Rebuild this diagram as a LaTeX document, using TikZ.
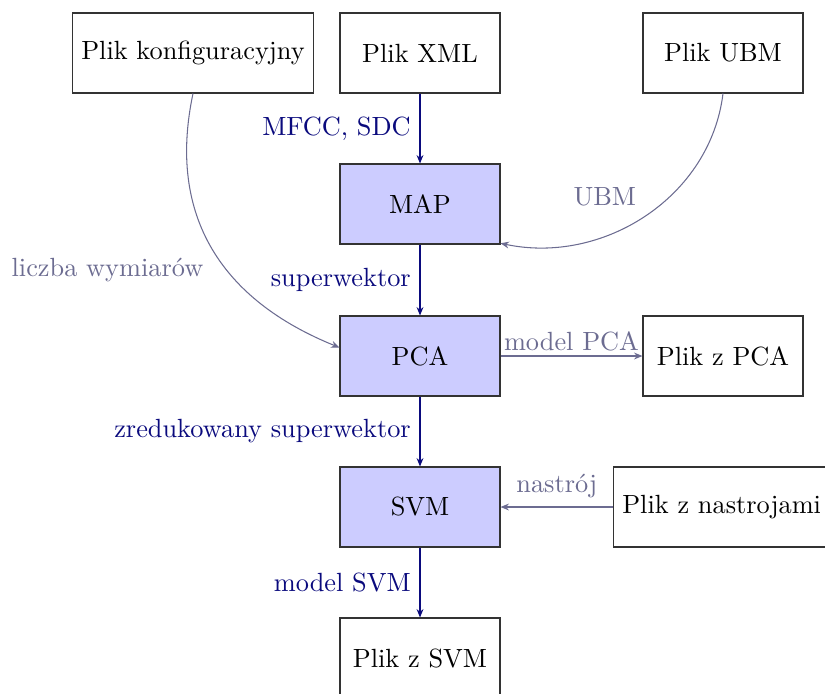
\documentclass[tikz,border=0pt]{standalone}
\usetikzlibrary{arrows.meta}
\definecolor{navyc}{RGB}{10,10,125}
\definecolor{grayc}{RGB}{108,108,145}
\definecolor{boxc}{RGB}{204,204,255}
\begin{document}
\begin{tikzpicture}[x=0.38pt,y=-0.38pt,
  filebox/.style={draw=black!80,minimum width=60.8pt,minimum height=30.4pt},
  procbox/.style={filebox,fill=boxc},
  mainarr/.style={draw=navyc,-{Stealth[length=3.2pt,width=2.6pt]}},
  sidearr/.style={draw=grayc,-{Stealth[length=3.2pt,width=2.6pt]}},
  mainlab/.style={text=navyc},
  sidelab/.style={text=grayc}]
\useasboundingbox (0,0) rectangle (825,693);
\node[filebox] (konf) at (193,53) {Plik konfiguracyjny};
\node[filebox] (xml) at (420,53) {Plik XML};
\node[filebox] (ubm) at (723,53) {Plik UBM};
\node[procbox] (map) at (420,204) {MAP};
\node[procbox] (pca) at (420,356) {PCA};
\node[filebox] (pcaf) at (723,356) {Plik z PCA};
\node[procbox] (svm) at (420,507) {SVM};
\node[filebox,anchor=west] (nastr) at (613,507) {Plik z nastrojami};
\node[filebox] (svmf) at (420,658) {Plik z SVM};

\draw[mainarr] (xml) -- node[left,mainlab] {MFCC, SDC} (map);
\draw[mainarr] (map) -- node[left,mainlab] {superwektor} (pca);
\draw[mainarr] (pca) -- node[left,mainlab] {zredukowany superwektor} (svm);
\draw[mainarr] (svm) -- node[left,mainlab] {model SVM} (svmf);
\draw[sidearr] (pca) -- node[above,sidelab,inner sep=1.5pt] {model PCA} (pcaf);
\draw[sidearr] (nastr) -- node[above,sidelab] {nastrój} (svm);
\draw[sidearr] (ubm.south) to[out=-97,in=-12] node[above left,sidelab] {UBM} (map.334);
\draw[sidearr] (konf.south) to[out=-102,in=158,looseness=1.1] node[below left,sidelab] {liczba wymiarów} (pca.174);
\end{tikzpicture}
\end{document}
